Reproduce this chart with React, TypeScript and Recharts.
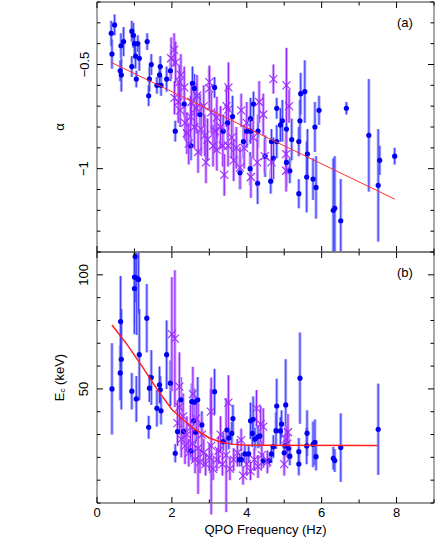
import React from 'react';
import { ScatterChart, Scatter, ErrorBar, XAxis, YAxis } from 'recharts';

type Pt = { f: number; v: number; e: number | [number, number] };

// tick values (minor + major) and which ones carry a label
const freqTicks = [0, 1, 2, 3, 4, 5, 6, 7, 8, 9];
const freqLabels = [0, 2, 4, 6, 8];
const alphaTicks = [-1.4, -1.3, -1.2, -1.1, -1, -0.9, -0.8, -0.7, -0.6, -0.5, -0.4, -0.3, -0.2];
const alphaLabels = [-1, -0.5];
const ecTicks = [0, 10, 20, 30, 40, 50, 60, 70, 80, 90, 100, 110];
const ecLabels = [50, 100];

// panel (a): photon index vs QPO frequency
const blueA: Pt[] = [
  { f: 0.38, v: -0.35, e: 0.06 }, { f: 0.47, v: -0.31, e: 0.05 }, { f: 0.4, v: -0.45, e: 0.07 },
  { f: 0.64, v: -0.41, e: 0.06 }, { f: 0.71, v: -0.39, e: 0.07 }, { f: 0.62, v: -0.53, e: 0.05 },
  { f: 0.65, v: -0.55, e: 0.08 }, { f: 0.93, v: -0.34, e: 0.05 }, { f: 0.97, v: -0.36, e: 0.06 },
  { f: 1.0, v: -0.4, e: 0.05 }, { f: 1.09, v: -0.4, e: 0.04 }, { f: 1.03, v: -0.46, e: 0.06 },
  { f: 1.13, v: -0.47, e: 0.06 }, { f: 0.93, v: -0.51, e: 0.05 }, { f: 1.05, v: -0.57, e: 0.04 },
  { f: 1.34, v: -0.39, e: 0.04 }, { f: 1.45, v: -0.5, e: 0.05 }, { f: 1.4, v: -0.57, e: 0.06 },
  { f: 1.38, v: -0.65, e: 0.05 }, { f: 1.6, v: -0.6, e: 0.04 }, { f: 1.69, v: -0.51, e: 0.05 },
  { f: 1.67, v: -0.55, e: 0.05 }, { f: 1.71, v: -0.6, e: 0.05 }, { f: 1.86, v: -0.57, e: 0.06 },
  { f: 1.96, v: -0.53, e: 0.05 }, { f: 2.09, v: -0.82, e: 0.05 }, { f: 2.55, v: -0.59, e: 0.08 },
  { f: 2.6, v: -0.615, e: 0.07 }, { f: 2.33, v: -0.69, e: 0.06 }, { f: 2.51, v: -0.89, e: 0.07 },
  { f: 3.14, v: -0.61, e: 0.05 }, { f: 2.75, v: -0.74, e: 0.1 }, { f: 3.37, v: -0.82, e: 0.08 },
  { f: 3.49, v: -0.78, e: 0.08 }, { f: 3.62, v: -0.75, e: 0.1 }, { f: 3.82, v: -1.02, e: 0.08 },
  { f: 4.1, v: -0.76, e: 0.1 }, { f: 4.18, v: -0.69, e: 0.06 }, { f: 4.09, v: -1.0, e: 0.08 },
  { f: 4.29, v: -1.07, e: 0.1 }, { f: 4.49, v: -0.94, e: 0.1 }, { f: 4.0, v: -0.82, e: 0.08 },
  { f: 4.1, v: -0.82, e: 0.06 }, { f: 4.3, v: -0.82, e: 0.08 }, { f: 3.91, v: -0.87, e: 0.08 },
  { f: 4.8, v: -0.71, e: 0.05 }, { f: 5.44, v: -0.64, e: 0.1 }, { f: 5.55, v: -0.63, e: 0.15 },
  { f: 5.93, v: -0.72, e: 0.07 }, { f: 6.66, v: -0.71, e: 0.03 }, { f: 4.95, v: -0.77, e: 0.1 },
  { f: 5.42, v: -0.77, e: 0.1 }, { f: 5.82, v: -0.8, e: 0.12 }, { f: 4.9, v: -0.79, e: 0.08 },
  { f: 5.06, v: -0.81, e: 0.1 }, { f: 4.66, v: -0.87, e: 0.06 }, { f: 4.8, v: -0.87, e: 0.08 },
  { f: 5.2, v: -0.86, e: 0.1 }, { f: 5.39, v: -0.87, e: 0.07 }, { f: 4.71, v: -0.95, e: 0.1 },
  { f: 5.06, v: -0.97, e: 0.12 }, { f: 5.15, v: -1.01, e: 0.06 }, { f: 4.64, v: -1.06, e: 0.06 },
  { f: 5.62, v: -0.93, e: 0.12 }, { f: 5.39, v: -1.12, e: 0.07 }, { f: 5.6, v: -1.04, e: 0.17 },
  { f: 5.77, v: -1.05, e: 0.1 }, { f: 5.85, v: -1.09, e: 0.15 }, { f: 6.31, v: -1.2, e: [0.2, 0.25] },
  { f: 6.35, v: -1.19, e: [0.21, 0.25] }, { f: 6.51, v: -1.25, e: [0.15, 0.2] }, { f: 7.26, v: -0.84, e: 0.27 },
  { f: 7.55, v: -0.96, e: 0.07 }, { f: 7.51, v: -1.08, e: 0.27 }, { f: 7.95, v: -0.94, e: 0.04 },
];

const purpleA: Pt[] = [
  { f: 2.06, v: -0.43, e: 0.08 }, { f: 1.98, v: -0.47, e: 0.1 }, { f: 2.1, v: -0.49, e: 0.1 },
  { f: 2.24, v: -0.55, e: 0.1 }, { f: 2.2, v: -0.585, e: 0.08 }, { f: 2.33, v: -0.61, e: 0.1 },
  { f: 2.07, v: -0.66, e: 0.08 }, { f: 2.17, v: -0.68, e: 0.1 }, { f: 2.67, v: -0.65, e: 0.1 },
  { f: 3.0, v: -0.585, e: 0.08 }, { f: 3.0, v: -0.615, e: 0.1 }, { f: 3.51, v: -0.61, e: 0.12 },
  { f: 3.46, v: -0.7, e: 0.1 }, { f: 3.51, v: -0.715, e: 0.1 }, { f: 3.85, v: -0.72, e: 0.08 },
  { f: 4.33, v: -0.68, e: 0.1 }, { f: 4.44, v: -0.74, e: 0.1 }, { f: 2.65, v: -0.71, e: 0.12 },
  { f: 3.2, v: -0.755, e: 0.1 }, { f: 2.4, v: -0.83, e: 0.1 }, { f: 2.91, v: -0.97, e: 0.1 },
  { f: 3.4, v: -1.03, e: 0.1 }, { f: 3.82, v: -0.995, e: 0.1 }, { f: 4.11, v: -1.04, e: 0.1 },
  { f: 4.28, v: -0.97, e: 0.12 }, { f: 3.93, v: -0.9, e: 0.1 }, { f: 4.17, v: -0.85, e: 0.1 },
  { f: 3.1, v: -0.89, e: 0.1 }, { f: 3.2, v: -0.91, e: 0.1 }, { f: 3.36, v: -0.89, e: 0.1 },
  { f: 3.5, v: -0.89, e: 0.1 }, { f: 3.72, v: -0.9, e: 0.1 }, { f: 2.6, v: -0.8, e: 0.1 },
  { f: 2.78, v: -0.81, e: 0.12 }, { f: 2.88, v: -0.84, e: 0.1 }, { f: 2.95, v: -0.86, e: 0.1 },
  { f: 3.15, v: -0.82, e: 0.1 }, { f: 4.71, v: -0.57, e: 0.07 }, { f: 5.06, v: -0.6, e: 0.18 },
  { f: 5.13, v: -0.7, e: 0.08 }, { f: 4.48, v: -0.94, e: 0.08 }, { f: 5.05, v: -0.93, e: 0.1 },
  { f: 4.66, v: -0.97, e: 0.1 }, { f: 5.05, v: -1.01, e: 0.1 }, { f: 2.5, v: -0.75, e: 0.1 },
  { f: 2.35, v: -0.78, e: 0.08 }, { f: 2.7, v: -0.92, e: 0.1 }, { f: 3.05, v: -0.73, e: 0.1 },
  { f: 2.85, v: -0.7, e: 0.1 }, { f: 3.3, v: -0.8, e: 0.1 }, { f: 3.6, v: -0.85, e: 0.1 },
  { f: 4.0, v: -0.78, e: 0.1 }, { f: 2.52, v: -0.68, e: 0.1 }, { f: 2.45, v: -0.88, e: 0.1 },
  { f: 3.65, v: -0.96, e: 0.1 }, { f: 2.22, v: -0.72, e: 0.08 },
];

const fitA = [{ f: 0.38, v: -0.49 }, { f: 7.95, v: -1.146 }];

// panel (b): cutoff energy vs QPO frequency
const blueB: Pt[] = [
  { f: 0.4, v: 50, e: 20 }, { f: 0.62, v: 57, e: 12 }, { f: 0.63, v: 79.5, e: 20 },
  { f: 0.65, v: 63, e: 22 }, { f: 0.93, v: 49, e: 8 }, { f: 1.0, v: 94, e: [15, 15] },
  { f: 1.0, v: 99, e: [25, 11] }, { f: 1.06, v: 98.6, e: [25, 11] }, { f: 1.11, v: 98, e: [15, 12] },
  { f: 1.02, v: 108, e: [20, 2] }, { f: 1.05, v: 45.6, e: 10 }, { f: 1.13, v: 65, e: 20 },
  { f: 1.33, v: 81, e: 15 }, { f: 1.4, v: 50.3, e: 6 }, { f: 1.38, v: 33.2, e: 5 },
  { f: 1.45, v: 55, e: 12 }, { f: 1.6, v: 41.5, e: 8 }, { f: 1.71, v: 40.4, e: 6 },
  { f: 1.67, v: 51.8, e: 8 }, { f: 1.69, v: 49.6, e: 6 }, { f: 1.86, v: 65, e: 15 },
  { f: 1.96, v: 52.5, e: 10 }, { f: 2.09, v: 21.8, e: 4 }, { f: 2.15, v: 31.3, e: 6 },
  { f: 2.31, v: 31.3, e: 5 }, { f: 2.24, v: 45.2, e: 10 }, { f: 2.51, v: 22.8, e: 4 },
  { f: 2.53, v: 44.4, e: 8 }, { f: 2.6, v: 44.2, e: 6 }, { f: 2.69, v: 45.2, e: 10 },
  { f: 2.58, v: 36, e: 6 }, { f: 2.63, v: 31, e: 5 }, { f: 2.8, v: 34.2, e: 6 },
  { f: 3.14, v: 48.8, e: 10 }, { f: 3.37, v: 26.9, e: 4 }, { f: 3.47, v: 32, e: 5 },
  { f: 3.52, v: 28.5, e: 5 }, { f: 3.6, v: 30.5, e: 5 }, { f: 3.63, v: 37, e: 6 },
  { f: 3.8, v: 19, e: 3 }, { f: 3.86, v: 19, e: 3 }, { f: 3.95, v: 21.5, e: 4 },
  { f: 4.05, v: 21.5, e: 4 }, { f: 4.1, v: 36, e: 8 }, { f: 4.17, v: 36.7, e: 10 },
  { f: 4.15, v: 30.5, e: 6 }, { f: 4.22, v: 28, e: 5 }, { f: 4.3, v: 29, e: 5 },
  { f: 4.35, v: 29.4, e: 5 }, { f: 4.44, v: 18.5, e: 3 }, { f: 4.59, v: 18.5, e: 3 },
  { f: 4.66, v: 21.5, e: 4 }, { f: 4.71, v: 24.7, e: 5 }, { f: 4.78, v: 31.7, e: 8 },
  { f: 4.9, v: 31.6, e: 6 }, { f: 4.8, v: 42.5, e: 12 }, { f: 4.93, v: 34.6, e: 6 },
  { f: 5.04, v: 43, e: 20 }, { f: 5.0, v: 22, e: 4 }, { f: 5.02, v: 25, e: 5 },
  { f: 5.12, v: 24, e: 5 }, { f: 5.15, v: 20.5, e: 4 }, { f: 5.42, v: 54.7, e: 20 },
  { f: 5.39, v: 22.5, e: 6 }, { f: 5.39, v: 17.1, e: 5 }, { f: 5.61, v: 30.6, e: 10 },
  { f: 5.6, v: 25, e: 8 }, { f: 5.77, v: 25.7, e: 10 }, { f: 5.82, v: 26.6, e: 10 },
  { f: 5.85, v: 20.3, e: 6 }, { f: 6.31, v: 19.6, e: 5 }, { f: 6.35, v: 18.6, e: 5 },
  { f: 6.51, v: 24.3, e: 15 }, { f: 7.51, v: 32.3, e: 20 },
];

const purpleB: Pt[] = [
  { f: 2.0, v: 74, e: 25 }, { f: 2.08, v: 72, e: 30 }, { f: 2.2, v: 51, e: 15 },
  { f: 2.56, v: 47.7, e: 12 }, { f: 3.04, v: 40, e: 10 }, { f: 3.51, v: 44, e: 12 },
  { f: 3.85, v: 27.6, e: 5 }, { f: 4.26, v: 41.5, e: 8 }, { f: 4.37, v: 34.6, e: 8 },
  { f: 4.44, v: 33.5, e: 8 }, { f: 5.05, v: 28, e: 6 }, { f: 5.1, v: 31, e: 8 },
  { f: 5.08, v: 26, e: 6 }, { f: 5.0, v: 17, e: 5 }, { f: 2.25, v: 28, e: 8 },
  { f: 2.35, v: 25, e: 8 }, { f: 2.4, v: 30, e: 8 }, { f: 2.45, v: 22, e: 6 },
  { f: 2.55, v: 26, e: 8 }, { f: 2.62, v: 19, e: 6 }, { f: 2.7, v: 24, e: 20 },
  { f: 2.75, v: 18, e: 5 }, { f: 2.85, v: 22, e: 6 }, { f: 2.9, v: 17, e: 5 },
  { f: 3.0, v: 20, e: 6 }, { f: 3.05, v: 25, e: 30 }, { f: 3.1, v: 15, e: 5 },
  { f: 3.2, v: 19, e: 5 }, { f: 3.25, v: 23, e: 6 }, { f: 3.35, v: 17, e: 5 },
  { f: 3.45, v: 21, e: 25 }, { f: 3.55, v: 15, e: 5 }, { f: 3.65, v: 19, e: 5 },
  { f: 3.75, v: 22, e: 6 }, { f: 3.9, v: 12, e: 4 }, { f: 4.0, v: 17, e: 5 },
  { f: 4.1, v: 14, e: 4 }, { f: 4.2, v: 19, e: 5 }, { f: 4.3, v: 16, e: 5 },
  { f: 4.4, v: 21, e: 6 }, { f: 4.55, v: 18, e: 5 }, { f: 2.15, v: 35, e: 10 },
  { f: 2.3, v: 38, e: 10 }, { f: 2.5, v: 33, e: 10 }, { f: 2.65, v: 37, e: 10 },
  { f: 2.2, v: 42, e: 12 }, { f: 2.8, v: 30, e: 8 }, { f: 3.3, v: 30, e: 8 },
];

const fitB = [
  { f: 0.4, v: 78 }, { f: 0.8, v: 69.5 }, { f: 1.2, v: 60 }, { f: 1.6, v: 50 },
  { f: 2.0, v: 41 }, { f: 2.3, v: 36.5 }, { f: 2.6, v: 32.5 }, { f: 3.0, v: 28.5 },
  { f: 3.3, v: 26.7 }, { f: 3.6, v: 25.8 }, { f: 4.0, v: 25.3 }, { f: 7.5, v: 25.2 },
];

const FONT = 'Liberation Sans, Arial, sans-serif';
const isMajor = (v: number, majors: number[]) => majors.some((m) => Math.abs(m - v) < 1e-6);
const fmtNum = (v: number) => (v < 0 ? '\u2212' + String(-v) : String(v));

// inward ticks drawn from the axis line; labels only on the outer axes
const makeTick = (side: string, majors: number[], showLabels: boolean) => (p: any) => {
  const { x, y, payload } = p;
  const v = payload.value;
  const major = isMajor(v, majors);
  const len = major ? 6 : 3.5;
  let line = null;
  let label = null;
  if (side === 'bottom') {
    line = <line x1={x} x2={x} y1={y} y2={y - len} stroke="#000" strokeWidth={1} />;
    if (showLabels && major)
      label = <text x={x} y={y + 14} textAnchor="middle" fontSize={13} fontFamily={FONT} fill="#000">{fmtNum(v)}</text>;
  } else if (side === 'top') {
    line = <line x1={x} x2={x} y1={y} y2={y + len} stroke="#000" strokeWidth={1} />;
  } else if (side === 'left') {
    line = <line x1={x} x2={x + len} y1={y} y2={y} stroke="#000" strokeWidth={1} />;
    if (showLabels && major)
      label = (
        <text x={x - 13} y={y} transform={`rotate(-90 ${x - 13} ${y})`} textAnchor="middle" dominantBaseline="central"
          fontSize={13} fontFamily={FONT} fill="#000">{fmtNum(v)}</text>
      );
  } else {
    line = <line x1={x} x2={x - len} y1={y} y2={y} stroke="#000" strokeWidth={1} />;
  }
  return <g>{line}{label}</g>;
};

const BlueDot = (p: any) => <circle cx={p.cx} cy={p.cy} r={2.6} fill="#0000ee" />;
const PurpleCross = (p: any) => {
  const s = 4;
  return (
    <path d={`M${p.cx - s},${p.cy - s}L${p.cx + s},${p.cy + s}M${p.cx - s},${p.cy + s}L${p.cx + s},${p.cy - s}`}
      stroke="#9a2cff" strokeWidth={1.1} fill="none" />
  );
};
const NoShape = () => <g />;

const YTitle = (p: any) => {
  const vb = p.viewBox || {};
  const cx = 59;
  const cy = vb.y + vb.height / 2;
  return (
    <text x={cx} y={cy} transform={`rotate(-90 ${cx} ${cy})`} textAnchor="middle" dominantBaseline="central"
      fontSize={13} fontFamily={FONT} fill="#000">
      {p.sub ? (
        <>
          <tspan>{p.text}</tspan>
          <tspan fontSize={8} dy={3}>{p.sub}</tspan>
          <tspan dy={-3}>{p.rest}</tspan>
        </>
      ) : p.text}
    </text>
  );
};

const PanelTag = (p: any) => {
  const vb = p.viewBox || {};
  return (
    <text x={vb.x + vb.width - 37} y={vb.y + vb.height + 25} fontSize={13} fontFamily={FONT} fill="#000">{p.text}</text>
  );
};

const XTitle = (p: any) => {
  const vb = p.viewBox || {};
  return (
    <text x={vb.x + vb.width / 2} y={vb.y + 31} textAnchor="middle" fontSize={13} fontFamily={FONT} fill="#000">
      QPO Frequency (Hz)
    </text>
  );
};

const frame = { stroke: '#777', strokeWidth: 1.3 };

const errBars = (pale: string, dark: string) => [
  <ErrorBar key="p" dataKey="e" direction="y" width={0} stroke={pale} strokeWidth={3} />,
  <ErrorBar key="d" dataKey="e" direction="y" width={0} stroke={dark} strokeWidth={1} />,
];

// the four axes of one panel: bottom and left carry the scale, top and right mirror it
const panelAxes = (yDomain: number[], yTicks: number[], yLabels: number[], xLabelsShown: boolean,
  tag: string, yTitle: React.ReactElement, xTitle: boolean) => [
  <XAxis key="xb" xAxisId="b" dataKey="f" type="number" orientation="bottom" domain={[0, 9]} ticks={freqTicks}
    allowDataOverflow height={1} tickSize={0} tickMargin={0} axisLine={frame} tickLine={false}
    tick={makeTick('bottom', freqLabels, xLabelsShown)} interval={0} label={xTitle ? <XTitle /> : undefined} />,
  <XAxis key="xt" xAxisId="t" dataKey="f" type="number" orientation="top" domain={[0, 9]} ticks={freqTicks}
    allowDataOverflow height={1} tickSize={0} tickMargin={0} axisLine={frame} tickLine={false}
    tick={makeTick('top', freqLabels, false)} interval={0} label={<PanelTag text={tag} />} />,
  <YAxis key="yl" yAxisId="l" dataKey="v" type="number" orientation="left" domain={yDomain} ticks={yTicks}
    allowDataOverflow width={97} tickSize={0} tickMargin={0} axisLine={frame} tickLine={false}
    tick={makeTick('left', yLabels, true)} interval={0} label={yTitle} />,
  <YAxis key="yr" yAxisId="r" dataKey="v" type="number" orientation="right" domain={yDomain} ticks={yTicks}
    allowDataOverflow width={1} tickSize={0} tickMargin={0} axisLine={frame} tickLine={false}
    tick={makeTick('right', yLabels, false)} interval={0} />,
];

export default function App() {
  return (
    <div style={{ position: 'absolute', left: 0, top: 0, width: 436, height: 541, background: '#fff' }}>
      <div style={{ position: 'absolute', left: 0, top: 0 }}>
        <ScatterChart width={436} height={253} margin={{ top: 1, right: 1, bottom: 0, left: 0 }}>
          {panelAxes([-1.4, -0.2], alphaTicks, alphaLabels, false, '(a)', <YTitle text={'\u03b1'} />, false)}
          <Scatter xAxisId="b" yAxisId="l" data={blueA} shape={BlueDot} isAnimationActive={false}>
            {errBars('#a8a8ff', '#3a3aff')}
          </Scatter>
          <Scatter xAxisId="b" yAxisId="l" data={purpleA} shape={PurpleCross} isAnimationActive={false}>
            {errBars('#d2a0ff', '#9020ff')}
          </Scatter>
          <Scatter xAxisId="b" yAxisId="l" data={fitA} shape={NoShape} line={{ stroke: '#ff3030', strokeWidth: 1 }}
            isAnimationActive={false} />
        </ScatterChart>
      </div>
      <div style={{ position: 'absolute', left: 0, top: 0 }}>
        <ScatterChart width={436} height={541} margin={{ top: 251, right: 1, bottom: 37, left: 0 }}>
          {panelAxes([0, 110], ecTicks, ecLabels, true, '(b)', <YTitle text="E" sub="c" rest=" (keV)" />, true)}
          <Scatter xAxisId="b" yAxisId="l" data={blueB} shape={BlueDot} isAnimationActive={false}>
            {errBars('#a8a8ff', '#3a3aff')}
          </Scatter>
          <Scatter xAxisId="b" yAxisId="l" data={purpleB} shape={PurpleCross} isAnimationActive={false}>
            {errBars('#d2a0ff', '#9020ff')}
          </Scatter>
          <Scatter xAxisId="b" yAxisId="l" data={fitB} shape={NoShape} line={{ stroke: '#ff2020', strokeWidth: 1.5 }}
            isAnimationActive={false} />
        </ScatterChart>
      </div>
    </div>
  );
}
